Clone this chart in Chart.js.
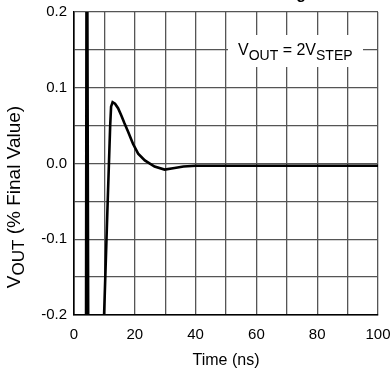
<!DOCTYPE html>
<html>
<head>
<meta charset="utf-8">
<script src="https://cdn.jsdelivr.net/npm/chart.js@4/dist/chart.umd.min.js"></script>
<style>
  html, body { margin: 0; padding: 0; background: #fff; }
  #wrap { width: 392px; height: 374px; position: relative; }
</style>
</head>
<body>
<div id="wrap"><canvas id="c" width="392" height="374"></canvas></div>
<script>
// ---- data ----
const timeNs = [3.7, 4.2, 5.2, 9.0, 9.9, 11.0, 11.9, 12.2, 12.7, 13.5, 14.5, 15.6, 16.6, 17.8, 19.4, 21.1, 23.3, 26.5, 29.8, 33.1, 36, 40, 100];
const vout   = [-1.0, 0.5, -1.0, -0.35, -0.2, -0.06, 0.05, 0.075, 0.081, 0.079, 0.073, 0.063, 0.053, 0.042, 0.026, 0.013, 0.004, -0.004, -0.008, -0.006, -0.004, -0.003, -0.003];
const xTickLabels = ['0', '20', '40', '60', '80', '100'];
const yTickLabels = ['-0.2', '-0.1', '0.0', '0.1', '0.2'];
const xAxisTitle = 'Time (ns)';
const yAxisTitleParts = [['V', 0], ['OUT', 1], [' (% Final Value)', 0]];
const insetParts = [['V', 0], ['OUT', 1], [' = 2V', 0], ['STEP', 1]];
const chartTitle = 'Settling';

const FONT = "Arial, 'Liberation Sans', sans-serif";

const points = timeNs.map((t, i) => ({ x: t, y: vout[i] }));

function drawParts(ctx, parts, x, y, mainSize, subSize, subShift) {
  let cx = x;
  parts.forEach(([txt, sub]) => {
    ctx.font = (sub ? subSize : mainSize) + 'px ' + FONT;
    ctx.fillText(txt, cx, y + (sub ? subShift : 0));
    cx += ctx.measureText(txt).width;
  });
  return cx - x;
}
function measureParts(ctx, parts, mainSize, subSize) {
  let w = 0;
  parts.forEach(([txt, sub]) => {
    ctx.font = (sub ? subSize : mainSize) + 'px ' + FONT;
    w += ctx.measureText(txt).width;
  });
  return w;
}

const extras = {
  id: 'extras',
  afterDatasetsDraw(chart) {
    const ctx = chart.ctx;
    ctx.save();
    // inset annotation box
    ctx.fillStyle = '#fff';
    ctx.fillRect(228, 35, 135, 32);
    ctx.fillStyle = '#000';
    ctx.textBaseline = 'alphabetic';
    ctx.textAlign = 'left';
    drawParts(ctx, insetParts, 238, 54.5, 16, 14, 5.5);
    ctx.restore();
  },
  afterDraw(chart) {
    const ctx = chart.ctx;
    ctx.save();
    ctx.fillStyle = '#000';
    ctx.textBaseline = 'alphabetic';
    // cropped title (only descender visible)
    ctx.font = 'bold 16px ' + FONT;
    ctx.textAlign = 'right';
    ctx.fillText(chartTitle, 306, -1);
    ctx.textAlign = 'left';
    // y axis title, rotated
    const w = measureParts(ctx, yAxisTitleParts, 19, 17);
    ctx.translate(20, 197);
    ctx.rotate(-Math.PI / 2);
    drawParts(ctx, yAxisTitleParts, -w / 2, 0, 19, 17, 3.5);
    ctx.restore();
  }
};

new Chart(document.getElementById('c'), {
  type: 'line',
  data: {
    datasets: [{
      data: points,
      borderColor: '#000',
      borderWidth: 2.6,
      pointRadius: 0,
      tension: 0,
      fill: false
    }]
  },
  options: {
    responsive: false,
    animation: false,
    devicePixelRatio: 1,
    layout: { padding: { top: 12, right: 14, left: 0, bottom: 0 } },
    plugins: { legend: { display: false }, tooltip: { enabled: false } },
    scales: {
      x: {
        type: 'linear',
        min: 0, max: 100,
        afterFit: s => { s.height = 59; s.paddingLeft = 0; s.paddingRight = 0; },
        grid: { color: '#555', lineWidth: 1.3, drawTicks: false },
        border: { color: '#000', width: 1.6 },
        ticks: {
          stepSize: 10, autoSkip: false, maxRotation: 0, padding: 11,
          color: '#000', font: { family: FONT, size: 15 },
          callback: v => (Math.round(v) % 20 === 0 ? xTickLabels[Math.round(v) / 20] : '')
        },
        title: { display: true, text: xAxisTitle, color: '#000', font: { family: FONT, size: 16 }, padding: { top: 2 } }
      },
      y: {
        type: 'linear',
        min: -0.2, max: 0.2,
        afterFit: s => { s.width = 74; s.paddingTop = 0; s.paddingBottom = 0; },
        grid: { color: '#555', lineWidth: 1.3, drawTicks: false },
        border: { color: '#000', width: 1.6 },
        ticks: {
          stepSize: 0.05, autoSkip: false, padding: 7,
          color: '#000', font: { family: FONT, size: 15 },
          callback: v => { const k = Math.round(v * 20); return (k % 2 === 0) ? yTickLabels[(k + 4) / 2] : ''; }
        }
      }
    }
  },
  plugins: [extras]
});
</script>
</body>
</html>
